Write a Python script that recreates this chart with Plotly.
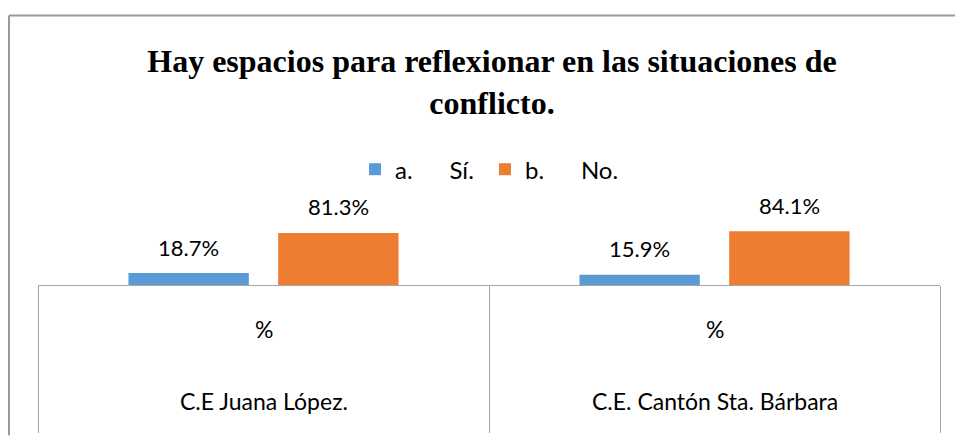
import plotly.graph_objects as go

# ---- data ----
categories = ["C.E Juana López.", "C.E. Cantón Sta. Bárbara"]
sub_label = "%"
series_names = ["a.", "b."]
series_answers = ["Sí.", "No."]
si_values = [18.7, 15.9]
no_values = [81.3, 84.1]
colors = ["#5B9BD5", "#ED7D31"]
title_text = "Hay espacios para reflexionar en las situaciones de<br>conflicto."

# ---- layout constants ----
W, H = 957, 444
ML, MR, MT, MB = 38, 17, 222, 156
BARGAP, BARGROUPGAP = 0.336, 0.196
YMAX = 100
FONT = "Lato"
GRAY = "#A6A6A6"

plot_w = W - ML - MR
plot_h = H - MT - MB


def px_to_paper_y(py):
    return (H - MB - py) / plot_h


def px_to_paper_x(px):
    return (px - ML) / plot_w


slot_px = plot_w / len(categories) * (1 - BARGAP) / 2

fig = go.Figure()
all_values = [si_values, no_values]
nser = len(all_values)
for j, (name, ans, vals, col) in enumerate(zip(series_names, series_answers, all_values, colors)):
    pad = "\u00a0" if j < nser - 1 else ""
    fig.add_trace(go.Bar(
        x=categories, y=vals,
        name=name + "\u00a0" * 6 + ans + pad,
        marker=dict(color=col, line=dict(width=0)),
        hoverinfo="skip",
    ))

annotations = []
for j, vals in enumerate(all_values):
    for cat, v in zip(categories, vals):
        annotations.append(dict(
            x=cat, y=v, xref="x", yref="y",
            text=f"{v:.1f}%", showarrow=False,
            xshift=(j - (nser - 1) / 2) * slot_px,
            yshift=26, yanchor="middle",
            font=dict(family=FONT, size=22, color="#000000"),
        ))
for cat in categories:
    annotations.append(dict(
        x=cat, y=px_to_paper_y(333), xref="x", yref="paper",
        text=sub_label, showarrow=False, yanchor="middle",
        font=dict(family=FONT, size=23, color="#000000"),
    ))
    annotations.append(dict(
        x=cat, y=px_to_paper_y(408), xref="x", yref="paper",
        text=cat, showarrow=False, yanchor="middle",
        font=dict(family=FONT, size=23, color="#000000"),
    ))

# outer frame (left and top edges, kept inside the figure)
shapes = [
    dict(type="line", xref="paper", yref="paper",
         x0=px_to_paper_x(9), x1=px_to_paper_x(9),
         y0=px_to_paper_y(10), y1=px_to_paper_y(H - 1),
         line=dict(color="#9A9A9A", width=2)),
    dict(type="line", xref="paper", yref="paper",
         x0=px_to_paper_x(9), x1=px_to_paper_x(W - 2),
         y0=px_to_paper_y(10), y1=px_to_paper_y(10),
         line=dict(color="#9A9A9A", width=2)),
]

fig.update_layout(
    width=W, height=H,
    margin=dict(l=ML, r=MR, t=MT, b=MB, pad=0),
    paper_bgcolor="white", plot_bgcolor="white",
    barmode="group", bargap=BARGAP, bargroupgap=BARGROUPGAP,
    title=dict(
        text=title_text, xref="paper", x=px_to_paper_x(492), xanchor="center",
        yref="container", y=1 - 72 / H, yanchor="top",
        font=dict(family="Liberation Serif", size=32, color="#000000", weight="bold"),
    ),
    legend=dict(
        orientation="h", xref="paper", x=px_to_paper_x(489.5), xanchor="center",
        yref="paper", y=px_to_paper_y(169), yanchor="middle",
        font=dict(family=FONT, size=24, color="#000000"),
        bgcolor="rgba(0,0,0,0)", itemclick=False, itemdoubleclick=False,
        itemwidth=30,
    ),
    xaxis=dict(
        type="category", showline=True, linecolor=GRAY, linewidth=1,
        ticks="outside", tickson="boundaries", ticklen=147,
        tickcolor=GRAY, tickwidth=1, showticklabels=False,
        showgrid=False, zeroline=False, fixedrange=True,
    ),
    yaxis=dict(
        range=[0, YMAX], visible=False, showgrid=False, zeroline=False,
        fixedrange=True,
    ),
    annotations=annotations,
    shapes=shapes,
    showlegend=True,
)

fig.write_html(
    "out.html",
    config={"displayModeBar": False},
    post_script=(
        "document.documentElement.style.overflow='hidden';"
        "document.body.style.margin='0';document.body.style.overflow='hidden';"
    ),
)
